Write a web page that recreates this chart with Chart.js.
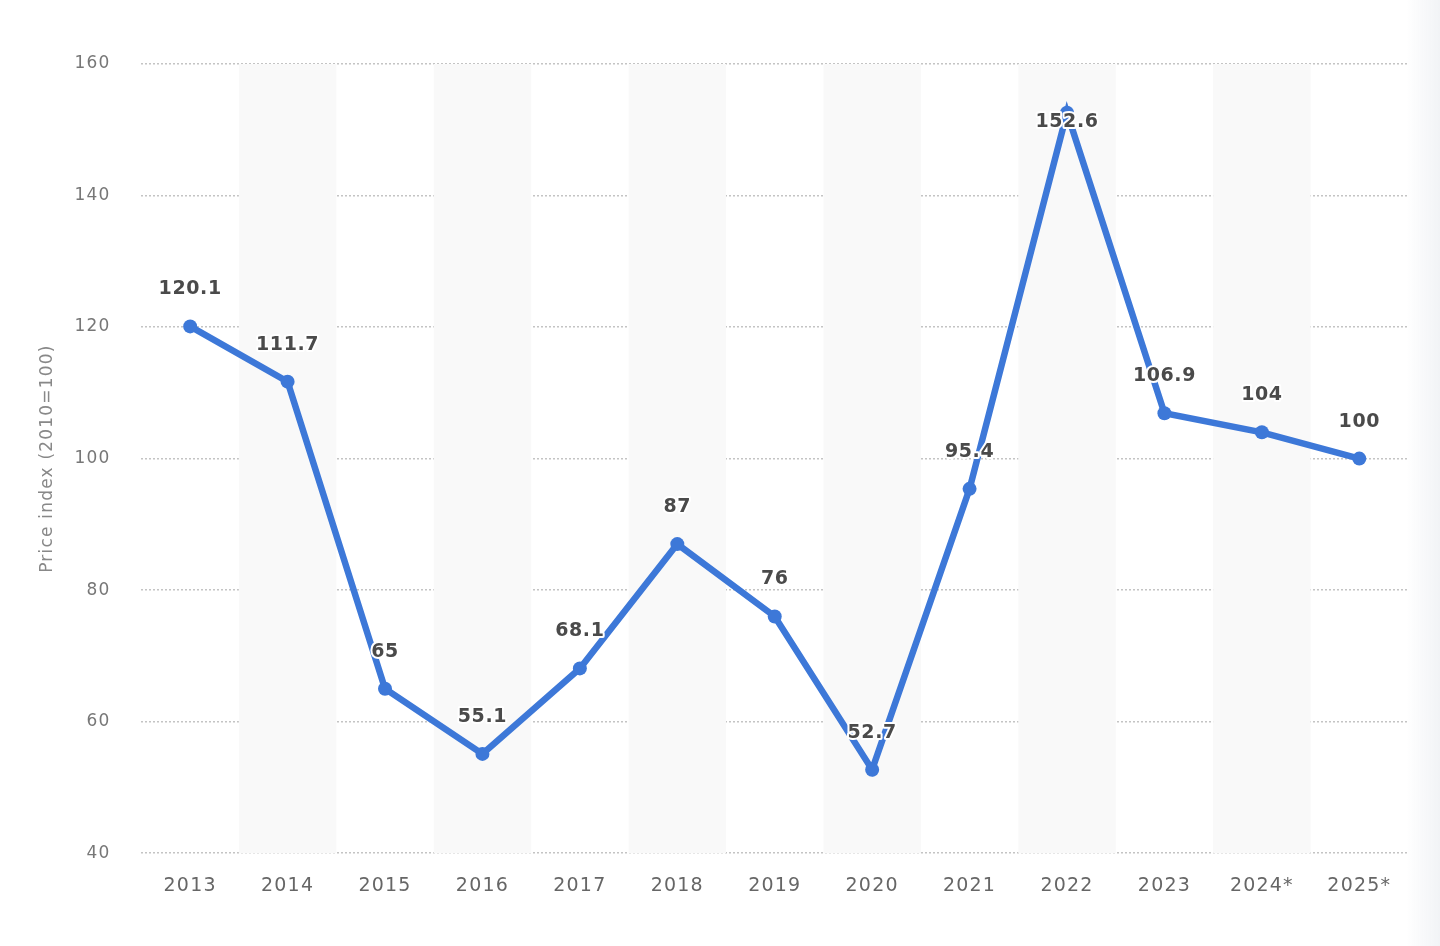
<!DOCTYPE html>
<html>
<head>
<meta charset="utf-8">
<script src="https://cdn.jsdelivr.net/npm/chart.js@4"></script>
<style>
  html, body { margin: 0; padding: 0; background: #fff; }
  #wrap { position: relative; width: 1440px; height: 946px; }
  #shade { position: absolute; top: 0; right: 0; width: 34px; height: 946px;
           background: linear-gradient(to right, rgba(240,242,245,0), rgba(240,242,245,0.9)); }
</style>
</head>
<body>
<div id="wrap">
  <canvas id="statsChart" width="1440" height="946"></canvas>
  <div id="shade"></div>
</div>
<script>
const years = ['2013', '2014', '2015', '2016', '2017', '2018', '2019', '2020', '2021', '2022', '2023', '2024*', '2025*'];
const priceIndex = [120.1, 111.7, 65, 55.1, 68.1, 87, 76, 52.7, 95.4, 152.6, 106.9, 104, 100];
const yTicks = [40, 60, 80, 100, 120, 140, 160];

const FONT = '"DejaVu Sans", sans-serif';
const SPACING = '1.2px';

// canvas resets its state on resize, so set the letter spacing again each time
const spacingPlugin = {
    id: 'spacing',
    beforeLayout(chart) { chart.ctx.letterSpacing = SPACING; },
    beforeDraw(chart) { chart.ctx.letterSpacing = SPACING; }
};

// light bands behind every second year
const bandPlugin = {
    id: 'bands',
    beforeDatasetsDraw(chart) {
        const ctx = chart.ctx;
        const x = chart.scales.x;
        const area = chart.chartArea;
        const w = x.getPixelForValue(1) - x.getPixelForValue(0);
        ctx.save();
        ctx.fillStyle = '#f9f9f9';
        for (let i = 1; i < years.length; i += 2) {
            const cx = x.getPixelForValue(i);
            ctx.fillRect(cx - w / 2, area.top, w, area.bottom - area.top);
        }
        ctx.restore();
    }
};

// value labels above the points, with white halo
const labelPlugin = {
    id: 'valueLabels',
    afterDatasetsDraw(chart) {
        const ctx = chart.ctx;
        const meta = chart.getDatasetMeta(0);
        const area = chart.chartArea;
        ctx.save();
        ctx.font = 'bold 19px ' + FONT;
        ctx.letterSpacing = '0.6px';
        ctx.textAlign = 'center';
        ctx.textBaseline = 'middle';
        ctx.lineJoin = 'round';
        meta.data.forEach(function(pt, i) {
            let y = pt.y - 37;
            if (y < area.top + 30) y = pt.y + 9;
            const txt = String(priceIndex[i]);
            ctx.strokeStyle = '#fff';
            ctx.lineWidth = 4;
            ctx.strokeText(txt, pt.x, y);
            ctx.fillStyle = '#4a4a4a';
            ctx.fillText(txt, pt.x, y);
        });
        ctx.restore();
    }
};

const ctx = document.getElementById('statsChart').getContext('2d');
new Chart(ctx, {
    type: 'line',
    data: {
        labels: years,
        datasets: [{
            data: priceIndex,
            borderColor: '#3d78d8',
            backgroundColor: '#3d78d8',
            borderWidth: 6.5,
            pointRadius: 7,
            pointHoverRadius: 7,
            pointBorderWidth: 0,
            tension: 0,
            clip: false
        }]
    },
    options: {
        responsive: false,
        animation: false,
        layout: { padding: { top: 64, right: 32, bottom: 36, left: 37 } },
        plugins: {
            legend: { display: false },
            tooltip: { enabled: false }
        },
        scales: {
            x: {
                offset: true,
                grid: { display: false },
                border: { display: false },
                ticks: { color: '#666', font: { family: FONT, size: 19 }, padding: 13 }
            },
            y: {
                min: 40,
                max: 160,
                afterBuildTicks(axis) { axis.ticks = yTicks.map(v => ({ value: v })); },
                grid: { color: '#c4c4c4', lineWidth: 1.5, drawTicks: false },
                border: { display: false, dash: [2, 2] },
                ticks: { color: '#777', font: { family: FONT, size: 17 }, padding: 31 },
                title: {
                    display: true,
                    text: 'Price index (2010=100)',
                    color: '#888',
                    font: { family: FONT, size: 17 },
                    padding: { top: 0, bottom: -14 }
                }
            }
        }
    },
    plugins: [spacingPlugin, bandPlugin, labelPlugin]
});
</script>
</body>
</html>
